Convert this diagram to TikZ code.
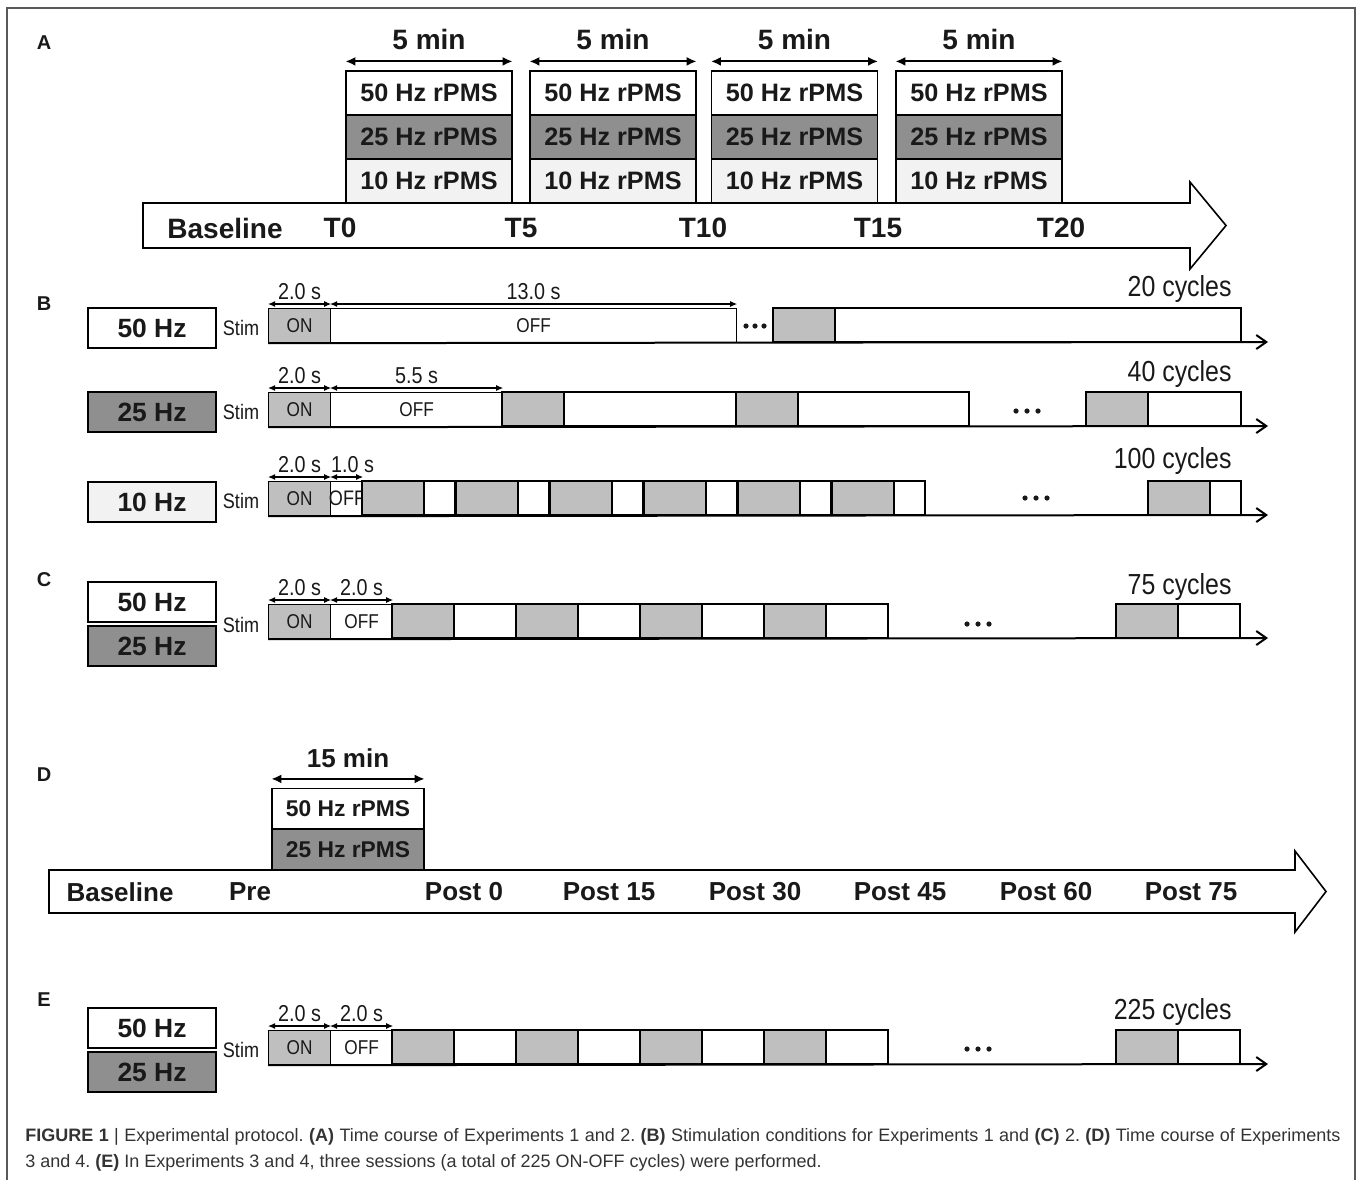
\documentclass[tikz,border=0pt]{standalone}
\usepackage{fontspec}
\setmainfont{Liberation Sans}
\newfontfamily\narrowfont{Liberation Sans}[FakeStretch=0.86]
\usetikzlibrary{arrows.meta,positioning}
\definecolor{darkcell}{gray}{0.56}
\definecolor{oncell}{gray}{0.75}
\definecolor{palecell}{gray}{0.95}
\definecolor{ink}{gray}{0.1}
\definecolor{capink}{gray}{0.2}
\definecolor{framegray}{gray}{0.35}

\begin{document}
\begin{tikzpicture}[x=0.5pt,y=-0.5pt,
every node/.style={text=ink},
panel/.style={font=\fontsize{10}{11}\selectfont\bfseries},
rpms/.style={draw,line width=0.6pt,minimum width=83pt,minimum height=22pt,inner sep=0pt,
font=\fontsize{12.6}{14}\selectfont\bfseries},
rpmsd/.style={rpms,minimum width=76pt,minimum height=20.5pt,font=\fontsize{11.4}{13}\selectfont\bfseries},
tlabel/.style={font=\fontsize{14}{16}\selectfont\bfseries},
plabel/.style={font=\fontsize{13}{15}\selectfont\bfseries},
freq/.style={draw,line width=0.6pt,minimum width=64pt,minimum height=20pt,inner sep=0pt,
font=\fontsize{13.2}{15}\selectfont\bfseries},
tag/.style={font=\narrowfont\fontsize{10.5}{12}\selectfont,inner sep=1pt},
dimlbl/.style={font=\narrowfont\fontsize{11.5}{13}\selectfont,inner sep=1pt},
cyc/.style={font=\narrowfont\fontsize{14.5}{16}\selectfont,inner sep=0pt,anchor=east},
cell/.style={draw,line width=0.6pt,minimum height=17pt,inner sep=0pt,anchor=north west,
font=\narrowfont\fontsize{10}{12}\selectfont},
cellbox/.style={draw,line width=0.6pt},
bigarrow/.style={draw,line width=0.8pt,fill=white},
span/.style={{Latex[length=5pt,width=4.5pt]}-{Latex[length=5pt,width=4.5pt]},line width=1pt},
dim/.style={{Latex[length=3.5pt,width=3pt]}-{Latex[length=3.5pt,width=3pt]},line width=0.6pt},
axis/.style={-{Straight Barb[length=5pt,width=7pt]},line width=1pt},
frame/.style={draw=framegray,line width=0.8pt}]
\useasboundingbox (0,0) rectangle (1358,1180);
\draw[frame] (7,1180) |- (1355,8) -- (1355,1180);

% panel letters
\foreach \lt/\yy in {A/43,B/304,C/580,D/775,E/1000}
  \node[panel] (lab\lt) at (44,\yy) {\lt};

% A: time course of experiments 1 and 2
\draw[bigarrow] (143,203) -- (1190,203) -- (1190,182) -- (1226,225.5) -- (1190,269)
  -- (1190,248) -- (143,248) -- cycle;
\foreach \cx [count=\i] in {429,613,794.5,979}{
  \node[rpms,fill=white] (a50\i) at (\cx,93) {50 Hz rPMS};
  \node[rpms,fill=darkcell] (a25\i) at (\cx,137) {25 Hz rPMS};
  \node[rpms,fill=palecell] (a10\i) at (\cx,181) {10 Hz rPMS};
  \draw[span] ([yshift=4.5pt]a50\i.north west) -- ([yshift=4.5pt]a50\i.north east)
    node[midway,above=2pt,tlabel] {5 min};
}
\foreach \tx/\lbl in {225/Baseline,340/T0,521/T5,703/T10,878/T15,1061/T20}
  \node[tlabel] (t\lbl) at (\tx,228) {\lbl};

% B: stimulation conditions
\node[freq,fill=white] (f50) at (152,328) {50 Hz};
\node[freq,fill=darkcell] (f25) at (152,412) {25 Hz};
\node[freq,fill=palecell] (f10) at (152,502) {10 Hz};
\foreach \yy [count=\i] in {328,412,501,625,1050}
  \node[tag] (stim\i) at (241,\yy) {Stim};

% B, 50 Hz
\node[cell,fill=oncell,minimum width=31pt] (b1on) at (268,308) {ON};
\node[cell,minimum width=203pt] (b1off) at (330,308) {OFF};
\draw[cellbox,fill=oncell] (773,308) rectangle (835,342);
\draw[cellbox] (835,308) rectangle (1241,342);
\foreach \i in {-1,0,1} \fill[ink] (755+\i*9,326) circle (1.3pt);
\coordinate (b1end) at (1268,342);
\draw[axis] (b1on.south west) -- (b1end);
\draw[dim] ([yshift=2pt]b1on.north west) -- ([yshift=2pt]b1on.north east)
  node[midway,above=1pt,dimlbl] {2.0 s};
\draw[dim] ([yshift=2pt]b1off.north west) -- ([yshift=2pt]b1off.north east)
  node[midway,above=1pt,dimlbl] {13.0 s};
\node[cyc] (b1cyc) at (1232,289) {20 cycles};

% B, 25 Hz
\node[cell,fill=oncell,minimum width=31pt] (b2on) at (268,392) {ON};
\node[cell,minimum width=86pt] (b2off) at (330,392) {OFF};
\foreach \x in {502,736,1086} \draw[cellbox,fill=oncell] (\x,392) rectangle ++(62,34);
\draw[cellbox] (564,392) rectangle (736,426);
\draw[cellbox] (798,392) rectangle (969,426);
\draw[cellbox] (1148,392) rectangle (1241,426);
\foreach \i in {-1,0,1} \fill[ink] (1027+\i*11,411) circle (1.3pt);
\coordinate (b2end) at (1268,426);
\draw[axis] (b2on.south west) -- (b2end);
\draw[dim] ([yshift=2pt]b2on.north west) -- ([yshift=2pt]b2on.north east)
  node[midway,above=1pt,dimlbl] {2.0 s};
\draw[dim] ([yshift=2pt]b2off.north west) -- ([yshift=2pt]b2off.north east)
  node[midway,above=1pt,dimlbl] {5.5 s};
\node[cyc] (b2cyc) at (1232,374) {40 cycles};

% B, 10 Hz
\node[cell,fill=oncell,minimum width=31pt] (b3on) at (268,481) {ON};
\node[cell,minimum width=16pt] (b3off) at (330,481) {};
\node[tag] (b3offtxt) at (347,498) {OFF};
\foreach \x in {362,456,550,644,738,832,1148} \draw[cellbox,fill=oncell] (\x,481) rectangle ++(62,34);
\foreach \x in {424,518,612,706,800,894,1210} \draw[cellbox] (\x,481) rectangle ++(31,34);
\foreach \i in {-1,0,1} \fill[ink] (1036+\i*11,498) circle (1.3pt);
\coordinate (b3end) at (1268,515);
\draw[axis] (b3on.south west) -- (b3end);
\draw[dim] ([yshift=2pt]b3on.north west) -- ([yshift=2pt]b3on.north east)
  node[midway,above=1pt,dimlbl] {2.0 s};
\draw[dim] ([yshift=2pt]b3off.north west) -- ([yshift=2pt]b3off.north east)
  node[midway,above=1pt,xshift=3pt,dimlbl] {1.0 s};
\node[cyc] (b3cyc) at (1232,461) {100 cycles};

% C: experiment 2
\node[freq,fill=white] (c50) at (152,602) {50 Hz};
\node[freq,fill=darkcell] (c25) at (152,646) {25 Hz};
\node[cell,fill=oncell,minimum width=31pt] (con) at (268,604) {ON};
\node[cell,minimum width=31pt] (coff) at (330,604) {OFF};
\foreach \x in {392,516,640,764,1116} \draw[cellbox,fill=oncell] (\x,604) rectangle ++(62,34);
\foreach \x in {454,578,702,826,1178} \draw[cellbox] (\x,604) rectangle ++(62,34);
\foreach \i in {-1,0,1} \fill[ink] (978+\i*11,624) circle (1.3pt);
\coordinate (cend) at (1268,638);
\draw[axis] (con.south west) -- (cend);
\draw[dim] ([yshift=2pt]con.north west) -- ([yshift=2pt]con.north east)
  node[midway,above=1pt,dimlbl] {2.0 s};
\draw[dim] ([yshift=2pt]coff.north west) -- ([yshift=2pt]coff.north east)
  node[midway,above=1pt,dimlbl] {2.0 s};
\node[cyc] (ccyc) at (1232,587) {75 cycles};

% D: time course of experiments 3 and 4
\draw[bigarrow] (49,870) -- (1295,870) -- (1295,851) -- (1326,891.5) -- (1295,932)
  -- (1295,913) -- (49,913) -- cycle;
\node[rpmsd,fill=white] (d50) at (348,809) {50 Hz rPMS};
\node[rpmsd,fill=darkcell] (d25) at (348,849.5) {25 Hz rPMS};
\draw[span] ([yshift=4.5pt]d50.north west) -- ([yshift=4.5pt]d50.north east)
  node[midway,above=2pt,plabel] {15 min};
\foreach \tx/\lbl [count=\i] in {120/Baseline,250/Pre,464/Post 0,609/Post 15,755/Post 30,
  900/Post 45,1046/Post 60,1191/Post 75}
  \node[plabel] (d\i) at (\tx,892) {\lbl};

% E: three sessions
\node[freq,fill=white] (e50) at (152,1028) {50 Hz};
\node[freq,fill=darkcell] (e25) at (152,1072) {25 Hz};
\node[cell,fill=oncell,minimum width=31pt] (eon) at (268,1030) {ON};
\node[cell,minimum width=31pt] (eoff) at (330,1030) {OFF};
\foreach \x in {392,516,640,764,1116} \draw[cellbox,fill=oncell] (\x,1030) rectangle ++(62,34);
\foreach \x in {454,578,702,826,1178} \draw[cellbox] (\x,1030) rectangle ++(62,34);
\foreach \i in {-1,0,1} \fill[ink] (978+\i*11,1049) circle (1.3pt);
\coordinate (eend) at (1268,1064);
\draw[axis] (eon.south west) -- (eend);
\draw[dim] ([yshift=2pt]eon.north west) -- ([yshift=2pt]eon.north east)
  node[midway,above=1pt,dimlbl] {2.0 s};
\draw[dim] ([yshift=2pt]eoff.north west) -- ([yshift=2pt]eoff.north east)
  node[midway,above=1pt,dimlbl] {2.0 s};
\node[cyc] (ecyc) at (1232,1012) {225 cycles};

% caption
\node[anchor=north west,text width=657.5pt,align=justify,inner sep=0pt,text=capink,
  font=\fontsize{9}{13}\selectfont\frenchspacing] (caption) at (25,1128)
  {\textbf{FIGURE 1} | Experimental protocol. \textbf{(A)} Time course of Experiments 1 and 2.
  \textbf{(B)} Stimulation conditions for Experiments 1 and \textbf{(C)} 2. \textbf{(D)} Time
  course of Experiments\linebreak 3 and 4. \textbf{(E)} In Experiments 3 and 4, three sessions
  (a total of 225 ON-OFF cycles) were performed.};
\end{tikzpicture}
\end{document}
